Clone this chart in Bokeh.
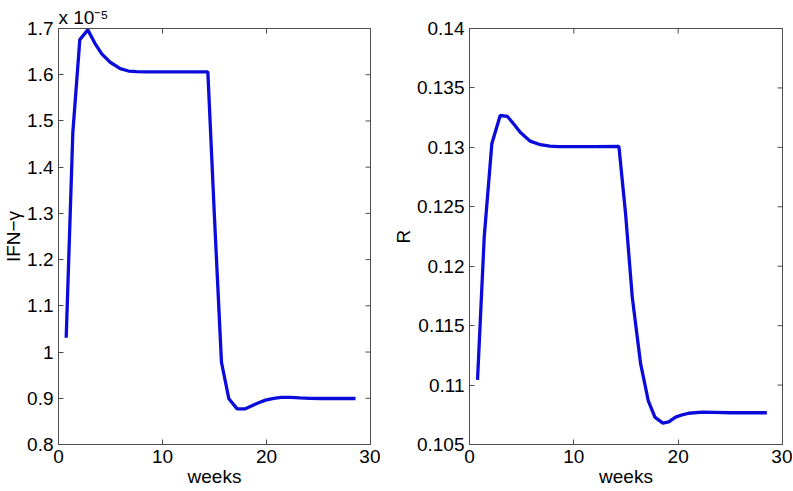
import math
from bokeh.plotting import figure
from bokeh.models import Range1d, FixedTicker
from bokeh.layouts import row
from bokeh.embed import file_html
from bokeh.resources import INLINE

# ---------------- data ----------------
weeks_ifn = [0.74, 1.38, 2.05, 2.82, 3.5, 4.16, 4.97, 5.93, 6.73, 7.5, 8.4, 9.8, 11.2, 12.6,
             14.36, 15.0, 15.67, 16.38, 17.18, 17.91, 18.6, 19.3, 19.9, 20.7, 21.4, 22.3,
             23.2, 24.2, 25.2, 26.5, 28.56]
ifn_gamma = [1.031, 1.476, 1.676, 1.697, 1.668, 1.645, 1.627, 1.613, 1.608, 1.6065, 1.606, 1.606,
             1.606, 1.606, 1.606, 1.29, 0.978, 0.899, 0.877, 0.877, 0.884, 0.891, 0.896, 0.900,
             0.902, 0.902, 0.901, 0.900, 0.8995, 0.8995, 0.8995]   # in units of 1e-5

weeks_r = [0.77, 1.41, 2.14, 2.94, 3.64, 4.3, 4.86, 5.82, 6.78, 7.7, 8.5, 10.0, 12.0, 14.32,
           14.96, 15.6, 16.4, 17.13, 17.77, 18.53, 19.1, 19.75, 20.4, 21.0, 22.3, 23.5, 25.0,
           28.5]
r_vals = [0.11044, 0.12244, 0.1303, 0.13268, 0.1326, 0.1319, 0.13127, 0.13052, 0.13022, 0.1301,
          0.13007, 0.13007, 0.13007, 0.13008, 0.1244, 0.1174, 0.1118, 0.1087, 0.1073, 0.1068,
          0.1069, 0.1073, 0.1075, 0.10763, 0.10772, 0.1077, 0.10767, 0.10767]

x_ticks = [0, 10, 20, 30]
ifn_ticks = [0.8, 0.9, 1.0, 1.1, 1.2, 1.3, 1.4, 1.5, 1.6, 1.7]
ifn_tick_labels = ["0.8", "0.9", "1", "1.1", "1.2", "1.3", "1.4", "1.5", "1.6", "1.7"]
r_ticks = [0.105, 0.11, 0.115, 0.12, 0.125, 0.13, 0.135, 0.14]
r_tick_labels = ["0.105", "0.11", "0.115", "0.12", "0.125", "0.13", "0.135", "0.14"]
ifn_multiplier = "x 10\u207b\u2075"

FONT = "Liberation Sans"
LINE_COLOR = "#0b0bdc"
AXIS_COLOR = "#4d4d4d"


def style_axis(ax, ticks, labels):
    ax.ticker = FixedTicker(ticks=ticks)
    ax.major_tick_in = 5
    ax.major_tick_out = 0
    ax.minor_tick_line_color = None
    ax.axis_line_color = AXIS_COLOR
    ax.major_tick_line_color = AXIS_COLOR
    ax.major_label_text_font = FONT
    ax.major_label_text_color = "black"
    ax.major_label_text_font_size = "19px"
    ax.major_label_standoff = 5
    ax.axis_label_standoff = 0
    ax.axis_label_text_font = FONT
    ax.axis_label_text_font_style = "normal"
    ax.axis_label_text_font_size = "19px"
    ax.axis_label_text_color = "black"
    ax.major_label_overrides = dict(zip(ticks, labels))


def make_fig(xs, ys, y0, y1, yticks, ylabels, ylab, border_left, border_right, fw, title=None):
    p = figure(output_backend="svg", toolbar_location=None,
               frame_width=fw, frame_height=416,
               min_border_left=border_left, min_border_right=border_right,
               min_border_top=28, min_border_bottom=45,
               x_range=Range1d(0, 30), y_range=Range1d(y0, y1))
    p.xgrid.visible = False
    p.ygrid.visible = False
    p.outline_line_color = AXIS_COLOR
    p.outline_line_width = 1
    p.background_fill_color = "white"
    p.border_fill_color = "white"
    if title:
        p.title.text = title
        p.title.text_font = FONT
        p.title.text_font_size = "19px"
        p.title.text_font_style = "normal"
        p.title.text_color = "black"
        p.title.align = "left"
        p.title.standoff = 1
    p.line(xs, ys, line_color=LINE_COLOR, line_width=3.3)

    style_axis(p.xaxis[0], x_ticks, [str(t) for t in x_ticks])
    p.xaxis[0].axis_label = "weeks"
    style_axis(p.yaxis[0], yticks, ylabels)
    p.yaxis[0].axis_label = ylab

    # inward tick marks on the top and right edges (clipped to the frame)
    p.scatter(x_ticks, [y1] * len(x_ticks), marker="dash", angle=math.pi / 2, size=10,
              line_color=AXIS_COLOR, line_width=1)
    p.scatter([30] * len(yticks), yticks, marker="dash", size=10,
              line_color=AXIS_COLOR, line_width=1)
    return p


p1 = make_fig(weeks_ifn, ifn_gamma, 0.8, 1.7, ifn_ticks, ifn_tick_labels, "IFN−γ", 58, 10, 312,
              title=ifn_multiplier)
p2 = make_fig(weeks_r, r_vals, 0.105, 0.14, r_ticks, r_tick_labels, "R", 89, 10, 313)

layout = row(p1, p2)

open("out.html", "w").write(file_html(layout, INLINE))
